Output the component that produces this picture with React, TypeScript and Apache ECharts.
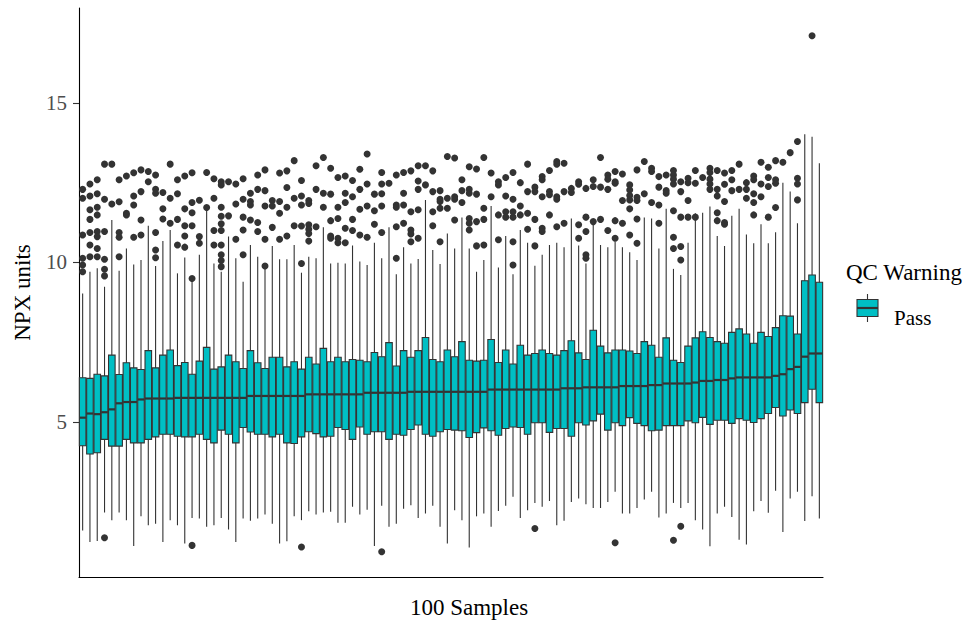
import React, { useEffect, useRef } from 'react';
import * as echarts from 'echarts';

const lowWhisker = [
  1.61, 1.25, 1.28, 2.17, 1.93, 2.17, 1.93, 1.12, 2.05, 1.77,
  1.82, 1.25, 1.93, 1.77, 1.20, 2.00, 1.98, 1.72, 1.77, 2.00,
  1.64, 1.25, 1.98, 1.91, 1.98, 2.11, 1.82, 1.20, 1.27, 2.05,
  1.93, 2.21, 2.11, 2.17, 2.19, 1.85, 1.85, 2.35, 2.11, 2.26,
  1.12, 2.38, 1.72, 1.82, 2.29, 2.40, 2.00, 2.14, 2.38, 1.72,
  1.20, 2.24, 1.93, 1.07, 2.05, 2.14, 1.72, 2.22, 2.38, 2.66,
  2.00, 2.24, 2.47, 2.35, 2.53, 1.77, 1.91, 2.50, 2.61, 2.43,
  2.31, 2.31, 2.50, 2.82, 2.14, 2.14, 2.31, 2.58, 2.82, 2.01,
  2.14, 2.47, 2.31, 2.47, 1.93, 1.64, 1.11, 2.14, 2.35, 2.03,
  1.32, 1.17, 2.21, 2.53, 2.16, 2.85, 1.56, 2.61, 2.82, 1.90,
  2.68, 1.98,
];

const q1 = [
  4.26, 4.00, 4.04, 4.46, 4.25, 4.25, 4.46, 4.35, 4.35, 4.46,
  4.54, 4.62, 4.62, 4.56, 4.54, 4.54, 4.62, 4.46, 4.35, 4.75,
  4.62, 4.35, 4.83, 4.69, 4.62, 4.62, 4.54, 4.62, 4.35, 4.33,
  4.54, 4.70, 4.64, 4.54, 4.56, 4.83, 4.77, 4.46, 4.85, 4.62,
  4.70, 4.70, 4.46, 4.62, 4.59, 4.77, 4.91, 4.62, 4.56, 4.70,
  4.77, 4.75, 4.73, 4.52, 4.67, 4.82, 4.73, 4.59, 4.80, 4.85,
  4.83, 4.62, 4.98, 4.98, 4.68, 4.80, 4.80, 4.56, 4.98, 4.91,
  5.04, 5.25, 4.75, 4.98, 4.89, 5.14, 4.96, 4.89, 4.73, 4.75,
  4.89, 4.89, 4.89, 5.04, 4.98, 5.15, 4.93, 5.06, 5.06, 4.96,
  5.11, 5.06, 4.99, 5.11, 5.27, 5.46, 5.19, 5.38, 5.27, 5.61,
  6.03, 5.61,
];

const median = [
  5.14, 5.27, 5.25, 5.31, 5.40, 5.59, 5.63, 5.63, 5.71, 5.74,
  5.74, 5.74, 5.74, 5.76, 5.76, 5.76, 5.76, 5.76, 5.76, 5.76,
  5.76, 5.76, 5.76, 5.82, 5.82, 5.82, 5.82, 5.82, 5.82, 5.82,
  5.82, 5.87, 5.87, 5.87, 5.87, 5.87, 5.87, 5.87, 5.87, 5.92,
  5.92, 5.92, 5.92, 5.92, 5.92, 5.95, 5.95, 5.95, 5.95, 5.95,
  5.95, 5.95, 5.95, 5.95, 5.95, 5.95, 6.02, 6.02, 6.02, 6.02,
  6.02, 6.02, 6.02, 6.02, 6.02, 6.02, 6.06, 6.06, 6.06, 6.09,
  6.09, 6.09, 6.09, 6.09, 6.13, 6.13, 6.13, 6.13, 6.16, 6.16,
  6.21, 6.21, 6.21, 6.21, 6.24, 6.29, 6.29, 6.32, 6.32, 6.37,
  6.40, 6.40, 6.40, 6.40, 6.40, 6.45, 6.50, 6.66, 6.73, 7.05,
  7.15, 7.15,
];

const q3 = [
  6.39, 6.37, 6.50, 6.45, 7.10, 6.49, 6.86, 6.70, 6.65, 7.24,
  6.70, 7.10, 7.26, 6.77, 6.87, 6.50, 6.91, 7.34, 6.66, 6.73,
  7.10, 6.89, 6.68, 7.24, 6.86, 6.68, 7.03, 7.03, 6.73, 6.89,
  6.66, 7.03, 6.82, 7.31, 6.89, 7.03, 6.89, 6.96, 6.94, 6.89,
  7.18, 7.05, 7.49, 6.76, 7.24, 7.03, 7.24, 7.65, 6.96, 6.89,
  7.26, 7.05, 7.52, 6.94, 6.91, 6.94, 7.59, 6.87, 7.26, 6.82,
  7.41, 7.10, 7.15, 7.26, 7.15, 7.10, 7.24, 7.55, 7.17, 6.96,
  7.88, 7.38, 7.17, 7.26, 7.26, 7.23, 7.15, 7.52, 7.41, 7.03,
  7.64, 6.94, 6.87, 7.38, 7.64, 7.83, 7.65, 7.52, 7.47, 7.81,
  7.92, 7.76, 7.47, 7.81, 7.68, 7.96, 8.33, 8.32, 7.76, 9.43,
  9.61, 9.38,
];

const highWhisker = [
  9.03, 9.71, 9.82, 9.24, 11.33, 9.74, 10.44, 9.94, 10.08, 11.15,
  9.89, 10.67, 11.02, 9.66, 10.16, 9.40, 10.24, 11.77, 9.97, 9.71,
  10.81, 10.13, 9.40, 10.55, 10.18, 9.82, 10.52, 10.10, 10.10, 10.55,
  9.68, 10.18, 10.13, 11.10, 9.97, 9.99, 9.97, 10.53, 10.03, 9.92,
  10.62, 10.13, 11.10, 9.63, 10.48, 9.97, 10.11, 11.96, 10.39, 9.95,
  10.91, 10.44, 11.41, 10.44, 9.71, 10.08, 11.77, 9.84, 10.83, 9.63,
  11.02, 10.62, 9.90, 10.24, 10.55, 10.62, 10.48, 11.38, 10.53, 9.97,
  11.33, 10.55, 10.48, 10.65, 10.48, 10.32, 10.08, 11.41, 11.38, 10.44,
  11.68, 9.80, 9.61, 10.62, 11.54, 11.56, 11.75, 10.83, 10.52, 11.46,
  11.68, 10.88, 10.60, 11.20, 10.60, 10.95, 12.50, 12.22, 11.23, 14.02,
  13.94, 13.11,
];

const outliers: number[][] = [
  [12.29, 12.01, 10.86, 10.13, 9.92, 9.71],
  [12.46, 12.08, 11.65, 11.35, 10.94, 10.55, 10.18],
  [12.59, 12.15, 11.73, 11.49, 10.97, 10.81, 10.44, 10.18],
  [13.08, 11.98, 10.97, 10.10, 9.79, 9.58, 1.38],
  [13.08, 11.83],
  [12.59, 11.90, 10.94, 10.79, 10.18],
  [12.71, 11.54, 11.49],
  [12.81, 12.08, 11.80, 10.79],
  [12.90, 12.22, 11.33, 10.86],
  [12.85, 12.53],
  [12.74, 12.29, 12.17, 10.94, 10.39, 10.15],
  [12.19, 11.68, 11.36],
  [13.08, 12.01, 11.23],
  [12.59, 12.15, 11.35, 10.55],
  [12.71, 11.68, 11.15, 10.83, 10.48],
  [12.81, 11.88, 11.56, 11.15, 9.50, 1.14],
  [11.95, 10.81, 10.60],
  [12.82, 11.72],
  [12.62, 12.01, 11.00, 10.55],
  [12.53, 12.43, 11.73, 11.45, 11.21, 11.00, 10.55, 10.24, 10.06, 9.87],
  [12.53, 11.46],
  [12.46, 11.83, 10.73],
  [12.62, 11.98, 11.42, 11.02, 10.24],
  [12.17, 11.91, 11.80, 11.33],
  [12.74, 12.29, 11.25, 10.97],
  [12.90, 12.25, 11.77, 10.73, 9.89],
  [11.94, 11.77, 11.10],
  [12.80, 11.91, 11.54, 10.73],
  [12.87, 12.35, 11.73, 10.83],
  [13.19, 12.01, 11.15],
  [12.57, 12.08, 11.80, 11.14, 9.97, 1.09],
  [11.94, 11.85, 11.18, 11.04, 10.91, 10.67],
  [13.03, 12.29, 11.12],
  [13.29, 12.17, 11.73],
  [12.95, 12.14, 11.31, 10.83, 10.76],
  [12.66, 11.73, 11.38, 10.76, 10.62],
  [12.71, 12.17, 11.88, 11.07, 10.62],
  [12.57, 12.06, 11.35, 11.00],
  [12.92, 12.29, 11.67, 10.86],
  [13.40, 12.46, 11.77, 10.79],
  [12.14, 11.62, 11.20],
  [12.82, 12.46, 12.15, 11.77, 10.94, 0.94],
  [12.48],
  [12.74, 11.80, 11.73, 11.12, 10.13],
  [12.82, 12.17, 11.80, 11.23],
  [12.87, 11.59, 11.02, 10.89, 10.65],
  [13.03, 12.55, 12.29, 11.65, 10.76],
  [13.03, 12.43],
  [12.87, 12.22, 11.59, 11.15],
  [12.25, 11.98, 11.91, 11.70, 10.65],
  [13.32, 12.01, 11.70],
  [13.27, 12.06, 11.98, 11.33],
  [12.59, 12.25, 11.88],
  [13.00, 12.29, 12.17, 11.38, 11.23, 11.02],
  [12.93, 12.14, 11.28, 10.52],
  [13.29, 11.70, 11.35, 10.55],
  [12.80, 12.06],
  [12.53, 12.43, 11.49, 10.71],
  [12.66, 12.08, 11.59, 11.42],
  [12.82, 11.98, 11.59, 11.42, 10.65, 9.92],
  [12.50, 11.77, 11.49],
  [13.08, 12.22, 11.54, 11.04],
  [12.36, 12.22, 11.35, 10.52, 1.67],
  [12.69, 12.59, 12.06, 11.07, 10.97],
  [12.88, 12.22, 12.12, 11.49],
  [13.16, 13.08, 12.06, 11.98, 11.12],
  [13.11, 12.22, 11.23],
  [12.32, 12.19],
  [12.53, 12.45, 11.18, 10.76],
  [12.32, 11.42, 10.97, 10.24, 10.13],
  [12.59, 12.38, 11.28],
  [13.29, 12.36, 11.35],
  [12.74, 12.61, 12.29, 11.00],
  [12.85, 12.53, 12.48, 11.31, 10.76, 1.22],
  [12.77, 11.94, 11.23],
  [12.43, 12.27, 12.10, 11.96, 11.68, 10.86],
  [12.90, 12.04, 11.94, 11.36, 10.60],
  [13.16, 12.15],
  [12.95, 12.85, 11.88],
  [12.69, 12.36, 11.80, 11.23],
  [12.74, 12.25, 12.17],
  [12.88, 12.74, 12.61, 12.46, 11.62, 10.79, 10.44, 1.30],
  [12.53, 12.22, 11.42, 10.50, 10.08, 1.74],
  [12.64, 12.50, 11.94, 11.42],
  [12.88, 12.48, 11.42],
  [12.66],
  [12.95, 12.82, 12.61, 12.46, 12.29],
  [12.88, 12.29, 12.08, 11.56, 11.31],
  [12.80, 12.45, 11.91, 11.25, 11.20],
  [12.88, 12.59, 12.25],
  [13.08, 12.29],
  [12.50, 12.29, 12.01],
  [12.71, 12.59, 12.15, 11.88, 11.49],
  [13.14, 12.46, 12.06],
  [12.98, 12.66, 12.38, 11.42],
  [13.19, 12.59, 12.48, 11.72],
  [13.14],
  [13.44],
  [13.79, 12.64, 12.46, 11.96],
  [],
  [17.1],
  [],
];

const yTicks = [5, 10, 15];
const xTitle = '100 Samples';
const yTitle = 'NPX units';
const legendTitle = 'QC Warning';
const legendLabel = 'Pass';

const FILL = '#00BFC4';
const LINE = '#333333';
const FONT = '"Liberation Serif", "Times New Roman", serif';

export default function App() {
  const ref = useRef<HTMLDivElement>(null);
  useEffect(() => {
    if (!ref.current) return;
    const chart = echarts.init(ref.current, null, { renderer: 'svg' });
    const n = median.length;
    const cats = Array.from({ length: n }, (_, i) => `S${i + 1}`);
    const boxData = median.map((m, i) => [i, lowWhisker[i], q1[i], m, q3[i], highWhisker[i]]);
    const outData: number[][] = [];
    outliers.forEach((arr, i) => arr.forEach((v) => outData.push([i, v])));

    chart.setOption({
      animation: false,
      backgroundColor: '#ffffff',
      grid: { left: 79, right: 145, top: 8, bottom: 47, containLabel: false },
      xAxis: {
        type: 'category',
        data: cats,
        boundaryGap: true,
        axisLine: { show: true, lineStyle: { color: '#000000', width: 1.1 } },
        axisTick: { show: false },
        axisLabel: { show: false },
        splitLine: { show: false },
      },
      yAxis: {
        type: 'value',
        min: 0.15,
        max: 17.97,
        axisLine: { show: true, lineStyle: { color: '#000000', width: 1.1 } },
        axisTick: { show: true, length: 6, lineStyle: { color: '#333333', width: 1.1 }, customValues: yTicks },
        axisLabel: { show: true, customValues: yTicks, color: '#4D4D4D', fontFamily: FONT, fontSize: 21, margin: 12 },
        splitLine: { show: false },
        name: yTitle,
        nameLocation: 'middle',
        nameGap: 45,
        nameRotate: 90,
        nameTextStyle: { fontFamily: FONT, fontSize: 23, color: '#000000' },
      },
      series: [
        {
          type: 'custom',
          name: 'box',
          data: boxData,
          encode: { x: 0, y: [1, 2, 3, 4, 5] },
          z: 2,
          renderItem: (params: any, api: any) => {
            const i = api.value(0);
            const lo = api.coord([i, api.value(1)]);
            const b1 = api.coord([i, api.value(2)]);
            const md = api.coord([i, api.value(3)]);
            const b3 = api.coord([i, api.value(4)]);
            const hi = api.coord([i, api.value(5)]);
            const band = api.size([1, 0])[0];
            const w = band * 0.9;
            const x = lo[0];
            return {
              type: 'group',
              children: [
                { type: 'line', shape: { x1: x, y1: hi[1], x2: x, y2: lo[1] }, style: { stroke: LINE, lineWidth: 1.1 } },
                { type: 'rect', shape: { x: x - w / 2, y: b3[1], width: w, height: b1[1] - b3[1] }, style: { fill: FILL, stroke: LINE, lineWidth: 1.1 } },
                { type: 'line', shape: { x1: x - w / 2, y1: md[1], x2: x + w / 2, y2: md[1] }, style: { stroke: LINE, lineWidth: 2.2 } },
              ],
            };
          },
        },
        {
          type: 'scatter',
          name: 'outliers',
          data: outData,
          symbol: 'circle',
          symbolSize: 7,
          itemStyle: { color: LINE, opacity: 1 },
          z: 3,
        },
      ],
      graphic: [
        { type: 'text', x: 469, y: 607, style: { text: xTitle, font: `23px ${FONT}`, fill: '#000000', align: 'center', verticalAlign: 'middle' } },
        { type: 'text', x: 846, y: 272, style: { text: legendTitle, font: `23px ${FONT}`, fill: '#000000', verticalAlign: 'middle' } },
        { type: 'line', shape: { x1: 867.5, y1: 294, x2: 867.5, y2: 322 }, style: { stroke: LINE, lineWidth: 1.1 } },
        { type: 'rect', shape: { x: 857, y: 299.5, width: 21, height: 17 }, style: { fill: FILL, stroke: LINE, lineWidth: 1.1 } },
        { type: 'line', shape: { x1: 857, y1: 308, x2: 878, y2: 308 }, style: { stroke: LINE, lineWidth: 2.2 } },
        { type: 'text', x: 894, y: 318, style: { text: legendLabel, font: `21px ${FONT}`, fill: '#000000', verticalAlign: 'middle' } },
      ],
    });
    return () => chart.dispose();
  }, []);
  return <div ref={ref} style={{ position: 'absolute', left: 0, top: 0, width: 968, height: 624 }} />;
}
